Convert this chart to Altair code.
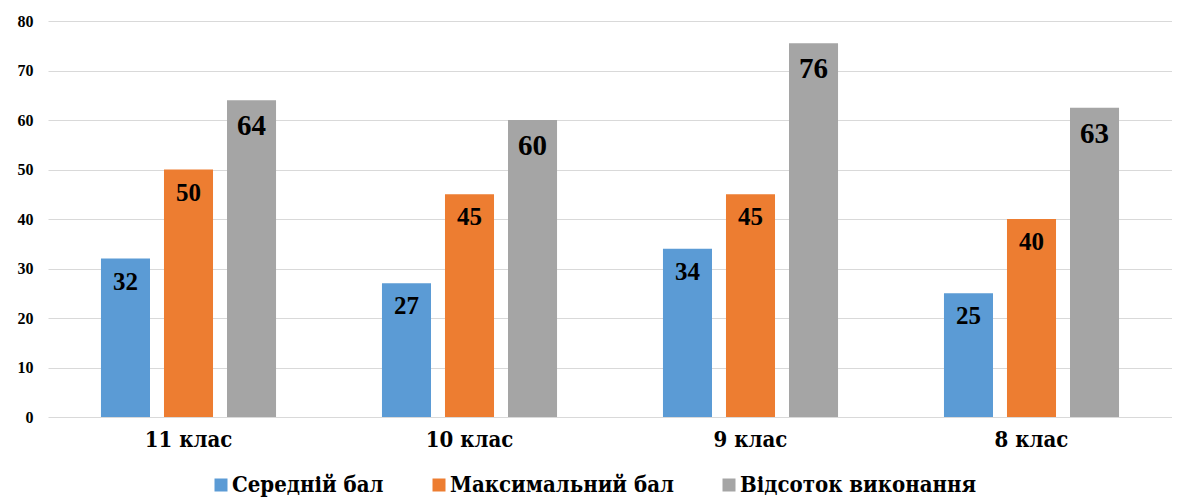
import altair as alt
import pandas as pd

categories = ["11 клас", "10 клас", "9 клас", "8 клас"]
series = ["Середній бал", "Максимальний бал", "Відсоток виконання"]
avg_score = [32, 27, 34, 25]
max_score = [50, 45, 45, 40]
completion = [64, 60, 75.5, 62.5]
colors = ["#5B9BD5", "#ED7D31", "#A5A5A5"]
y_ticks = [0, 10, 20, 30, 40, 50, 60, 70, 80]

rows = []
for s, vals in zip(series, [avg_score, max_score, completion]):
    for c, v in zip(categories, vals):
        rows.append({"cat": c, "series": s, "value": v})
df = pd.DataFrame(rows)

FONT = "Liberation Serif"
FONT_CYR = "DejaVu Serif Condensed"

x = alt.X("cat:N", sort=categories, title=None,
          scale=alt.Scale(paddingInner=0.377, paddingOuter=0.1885),
          axis=alt.Axis(labelAngle=0, labelFont=FONT_CYR, labelFontSize=22,
                        labelFontWeight="bold", labelColor="#000000",
                        labelPadding=12, ticks=False, domain=False))
xoff = alt.XOffset("series:N", sort=series,
                   scale=alt.Scale(paddingInner=0.222, paddingOuter=0))
y = alt.Y("value:Q", title=None,
          scale=alt.Scale(domain=[0, 80], nice=False),
          axis=alt.Axis(values=y_ticks, labelFont=FONT, labelFontSize=16,
                        labelFontWeight="bold", labelColor="#000000",
                        labelPadding=15, ticks=False, domain=False,
                        grid=True, gridColor="#d9d9d9", gridWidth=1.2))

bars = alt.Chart(df).mark_bar().encode(
    x=x, xOffset=xoff, y=y,
    color=alt.Color("series:N", sort=series,
                    scale=alt.Scale(domain=series, range=colors),
                    legend=alt.Legend(title=None, orient="none", direction="horizontal",
                                      legendX=162, legendY=453,
                                      symbolType="square", symbolSize=169,
                                      labelFont=FONT_CYR, labelFontSize=22,
                                      labelFontWeight="bold", labelColor="#000000",
                                      labelLimit=500,
                                      columnPadding=44, labelOffset=0,
                                      symbolStrokeWidth=0)),
)

small = df[df["series"] != series[2]]
big = df[df["series"] == series[2]]

text_small = alt.Chart(small).mark_text(baseline="middle", dy=23, font=FONT,
                                        fontSize=25, fontWeight="bold",
                                        color="#000000").encode(
    x=x, xOffset=xoff, y=y,
    text=alt.Text("value:Q", format=".0f"),
)
text_big = alt.Chart(big).mark_text(baseline="middle", dy=26, font=FONT,
                                    fontSize=29, fontWeight="bold",
                                    color="#000000").encode(
    x=x, xOffset=xoff, y=y,
    text=alt.Text("value:Q", format=".0f"),
)

chart = alt.layer(bars, text_small, text_big).properties(
    width=1124, height=396,
    autosize=alt.AutoSizeParams(type="none"),
    padding={"left": 40, "top": 13, "right": 0, "bottom": 81},
).configure_view(stroke=None)

chart.save("out.html", embed_options={"renderer": "svg", "actions": False})
